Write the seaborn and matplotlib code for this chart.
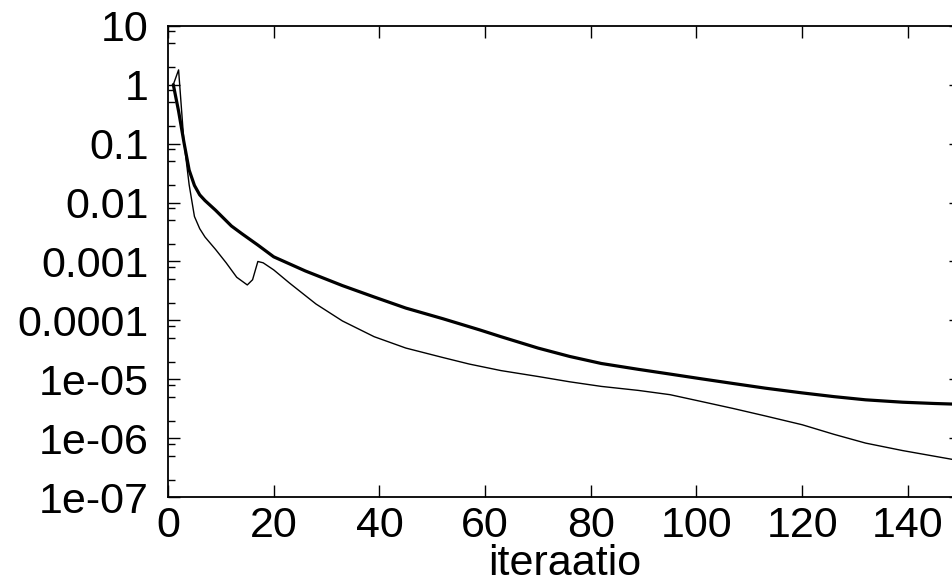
import numpy as np
import pandas as pd
import matplotlib
matplotlib.use("Agg")
import matplotlib.pyplot as plt
import matplotlib.ticker as mticker
import seaborn as sns

# ---- data ----
thick_iter = [1, 2, 3, 4, 5, 6, 7, 9, 12, 14, 17, 20, 26, 33, 39, 45, 52, 59, 63, 70,
              76, 82, 89, 95, 101, 107, 113, 120, 126, 132, 139, 145, 149]
thick_vals = [1.0, 0.355, 0.107, 0.0355, 0.0195, 0.0135, 0.0108, 0.0074, 0.0040, 0.00295,
              0.0019, 0.0012, 6.9e-4, 3.9e-4, 2.5e-4, 1.62e-4, 1.07e-4, 6.9e-5,
              5.3e-5, 3.4e-5, 2.45e-5, 1.86e-5, 1.48e-5, 1.23e-5, 1.02e-5, 8.5e-6,
              7.1e-6, 5.9e-6, 5.1e-6, 4.5e-6, 4.1e-6, 3.9e-6, 3.8e-6]

thin_iter = [1, 2, 3, 4, 5, 6, 7, 9, 11, 13, 15, 16, 17, 18, 20, 23, 28, 33, 39, 45, 52, 57,
             63, 70, 76, 82, 89, 95, 101, 107, 113, 120, 126, 132, 139, 149]
thin_vals = [1.0, 1.78, 0.11, 0.02, 0.0058, 0.0036, 0.0026, 0.0016, 9.5e-4, 5.4e-4, 4.0e-4,
             4.9e-4, 1.0e-3, 9.5e-4, 7.2e-4, 4.3e-4, 1.9e-4, 9.8e-5, 5.3e-5, 3.4e-5,
             2.35e-5, 1.82e-5, 1.41e-5, 1.12e-5, 9.1e-6, 7.6e-6, 6.5e-6, 5.5e-6, 4.2e-6,
             3.2e-6, 2.4e-6, 1.7e-6, 1.17e-6, 8.3e-7, 6.2e-7, 4.3e-7]

x_ticks = [0, 20, 40, 60, 80, 100, 120, 140]
y_ticks = [1e-7, 1e-6, 1e-5, 1e-4, 1e-3, 1e-2, 1e-1, 1, 10]
y_tick_labels = ["1e-07", "1e-06", "1e-05", "0.0001", "0.001", "0.01", "0.1", "1", "10"]
x_label = "iteraatio"

df_thick = pd.DataFrame({"iter": thick_iter, "val": thick_vals})
df_thin = pd.DataFrame({"iter": thin_iter, "val": thin_vals})

# ---- style ----
sns.set_style("ticks")
plt.rcParams["font.family"] = ["Liberation Sans", "DejaVu Sans"]
plt.rcParams["text.color"] = "black"
plt.rcParams["axes.labelcolor"] = "black"
plt.rcParams["xtick.color"] = "black"
plt.rcParams["ytick.color"] = "black"
FS = 31

fig = plt.figure(figsize=(9.53, 5.84), dpi=100)
ax = fig.add_axes([0.1763, 0.1485, 0.8318, 0.8075])

sns.lineplot(data=df_thick, x="iter", y="val", ax=ax, color="black", linewidth=2.3)
sns.lineplot(data=df_thin, x="iter", y="val", ax=ax, color="black", linewidth=1.0)

ax.set_yscale("log")
ax.set_xlim(0, 150)
ax.set_ylim(1e-7, 10)

ax.set_xticks(x_ticks)
ax.set_xticklabels([str(t) for t in x_ticks])
ax.set_yticks(y_ticks)
ax.set_yticklabels(y_tick_labels)
ax.yaxis.set_minor_locator(mticker.LogLocator(base=10, subs=[2, 5, 8], numticks=20))
ax.yaxis.set_minor_formatter(mticker.NullFormatter())

ax.tick_params(axis="both", which="major", direction="in", length=8.5, width=1.0,
               labelsize=FS, colors="black", top=True, right=True)
ax.tick_params(axis="y", which="major", pad=14)
ax.tick_params(axis="x", which="major", pad=6)
ax.tick_params(axis="y", which="minor", direction="in", length=5, width=1.0,
               left=True, right=False)
ax.tick_params(axis="x", which="minor", bottom=False, top=False)

for s in ax.spines.values():
    s.set_linewidth(1.3)
    s.set_color("black")

ax.set_xlabel(x_label, fontsize=FS, labelpad=-1, color="black")
ax.set_ylabel("")

fig.savefig("out.png", dpi=100)
